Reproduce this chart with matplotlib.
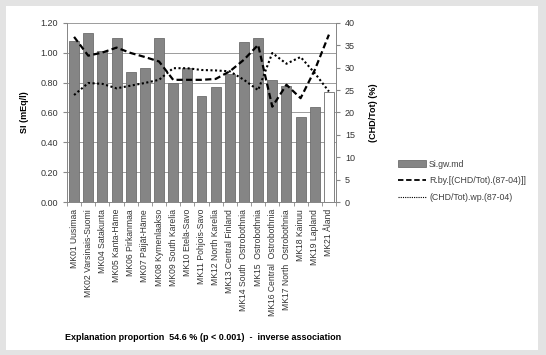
import numpy as np
import matplotlib.pyplot as plt
from matplotlib.patches import Patch
from matplotlib.lines import Line2D

plt.rcParams['font.family'] = ['Liberation Sans', 'DejaVu Sans']

# regions
regions = ['MK01 Uusimaa', 'MK02 Varsinais-Suomi', 'MK04 Satakunta', 'MK05 Kanta-Häme',
           'MK06 Pirkanmaa', 'MK07 Päijät-Häme', 'MK08 Kymenlaakso', 'MK09 South Karelia',
           'MK10 Etelä-Savo', 'MK11 Pohjois-Savo', 'MK12 North Karelia', 'MK13 Central Finland',
           'MK14 South  Ostrobothnia', 'MK15  Ostrobothnia', 'MK16 Central  Ostrobothnia',
           'MK17 North  Ostrobothnia', 'MK18 Kainuu', 'MK19 Lapland', 'MK21 Åland']

# Si (mEq/l)
si_gw = [1.08, 1.13, 1.01, 1.10, 0.87, 0.90, 1.10, 0.80, 0.90, 0.71,
         0.77, 0.86, 1.07, 1.10, 0.82, 0.78, 0.57, 0.64, 0.74]

# (CHD/Tot) %
chd_by = [36.9, 32.7, 33.4, 34.5, 33.3, 32.4, 31.4, 27.3, 27.3, 27.3,
          27.5, 29.2, 31.8, 35.1, 21.3, 26.2, 23.2, 29.5, 37.4]
chd_wp = [23.9, 26.6, 26.4, 25.4, 26.0, 26.6, 27.3, 29.9, 29.9, 29.5,
          29.4, 29.2, 27.3, 25.0, 33.3, 30.9, 32.4, 28.8, 24.7]

fig = plt.figure(figsize=(5.46, 3.55), dpi=100, facecolor='#e3e3e3')
# white panel
fig.patches.append(plt.Rectangle((6 / 546, 5 / 355), 532 / 546, 344 / 355,
                                 transform=fig.transFigure, facecolor='white',
                                 edgecolor='none', zorder=-5))

ax = fig.add_axes([67 / 546, 1 - 202 / 355, 269 / 546, 179 / 355])
ax.set_zorder(2)
ax.set_facecolor('white')
x = np.arange(len(regions))

colors = ['#858585'] * (len(regions) - 1) + ['white']
ax.bar(x, si_gw, width=0.7, color=colors, edgecolor='#6e6e6e', linewidth=0.6, zorder=2)

ax.set_ylim(0, 1.2)
ax.set_xlim(-0.5, len(regions) - 0.5)
ax.set_yticks(np.arange(0, 1.21, 0.2))
ax.set_yticklabels(['%.2f' % v for v in np.arange(0, 1.21, 0.2)], fontsize=6.5)
ax.grid(axis='y', color='#8c8c8c', linewidth=0.6, zorder=0)
ax.set_axisbelow(True)
ax.set_xticks(x)
ax.set_xticklabels(regions, rotation=90, fontsize=6.2, color='#333333')
ax.set_xticks(np.arange(-0.5, len(regions)), minor=True)
ax.tick_params(axis='x', which='major', length=0, pad=5)
ax.tick_params(axis='x', which='minor', length=3, color='#888888')
ax.tick_params(axis='y', length=3, color='#888888', labelcolor='#333333')
ax.set_ylabel('SI (mEq/l)', fontsize=6.5, fontweight='bold', labelpad=8)
ax.spines['top'].set_visible(False)
for s in ['left', 'bottom', 'right']:
    ax.spines[s].set_color('#888888')
    ax.spines[s].set_linewidth(0.7)

ax2 = ax.twinx()
ax2.set_zorder(3)
ax2.patch.set_visible(False)
ax2.plot(x, chd_by, color='black', linestyle=(0, (2.8, 1.5)), linewidth=1.6, zorder=3)
ax2.plot(x, chd_wp, color='black', linestyle=(0, (1, 1.2)), linewidth=1.5, zorder=3)
ax2.set_ylim(0, 40)
ax2.set_yticks(np.arange(0, 41, 5))
ax2.tick_params(axis='y', labelsize=6.5, length=3, color='#888888', labelcolor='#333333')
ax2.set_ylabel('(CHD/Tot) (%)', fontsize=6.5, fontweight='bold', labelpad=10)
ax2.spines['top'].set_visible(False)
for s in ['left', 'bottom', 'right']:
    ax2.spines[s].set_color('#888888')
    ax2.spines[s].set_linewidth(0.7)

handles = [Patch(facecolor='#858585', edgecolor='#6e6e6e', linewidth=0.6),
           Line2D([], [], color='black', linestyle=(0, (3, 1.5)), linewidth=1.3),
           Line2D([], [], color='black', linestyle=(0, (1, 1)), linewidth=0.8)]
labels = ['Si.gw.md', 'R.by.[(CHD/Tot).(87-04)]]', '(CHD/Tot).wp.(87-04)']
leg = fig.legend(handles, labels, loc='upper left', bbox_to_anchor=(394 / 546, 1 - 156 / 355),
                 fontsize=6.3, frameon=False, handlelength=3.2, handletextpad=0.4,
                 labelspacing=0.9, borderaxespad=0)
for t in leg.get_texts():
    t.set_color('#404040')

fig.text(203 / 546, 1 - 338 / 355,
         'Explanation proportion  54.6 % (p < 0.001)  -  inverse association',
         ha='center', va='center', fontsize=6.5, fontweight='bold')

plt.savefig('out.png', dpi=100, facecolor=fig.get_facecolor())
plt.close()
